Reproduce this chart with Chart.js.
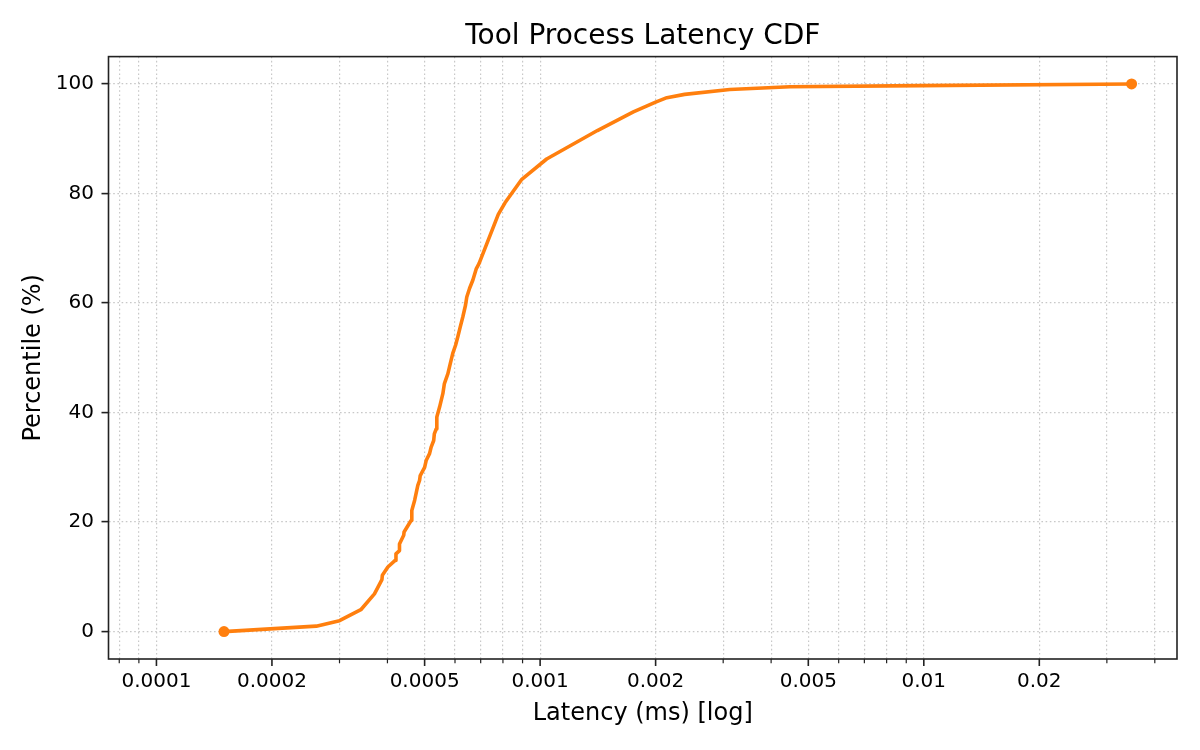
<!DOCTYPE html>
<html>
<head>
<meta charset="utf-8">
<title>Tool Process Latency CDF</title>
<script src="https://cdn.jsdelivr.net/npm/chart.js@4"></script>
<style>
  html, body { margin: 0; padding: 0; background: #fff; }
  #wrap { width: 1200px; height: 750px; }
</style>
</head>
<body>
<div id="wrap"><canvas id="cdf-chart" width="1200" height="750"></canvas></div>
<script>
// latency in ms
const latencyMs = [
  0.000150, 0.000261, 0.000300, 0.000341, 0.000370, 0.000387, 0.000388, 0.000401,
  0.000419, 0.000421, 0.000430, 0.000430, 0.000441, 0.000442, 0.000461, 0.000463,
  0.000471, 0.000480, 0.000485, 0.000487, 0.000500, 0.000505, 0.000515, 0.000520,
  0.000528, 0.000530, 0.000536, 0.000538, 0.000547, 0.000558, 0.000563, 0.000575,
  0.000583, 0.000592, 0.000602, 0.000610, 0.000619, 0.000629, 0.000639, 0.000644,
  0.000655, 0.000668, 0.000682, 0.000693, 0.000778, 0.000810, 0.000896, 0.001040,
  0.001410, 0.001750, 0.002000, 0.002140, 0.002380, 0.003120, 0.004480, 0.009800,
  0.034800
];
const percentile = [
  0, 1, 2, 4, 6.9, 9.5, 10.3, 11.8,
  13, 14.2, 14.8, 16, 17.6, 18.2, 20.3, 22.1,
  24, 26.7, 27.6, 28.5, 30, 31.3, 32.5, 33.7,
  34.9, 36.1, 37, 39.2, 41, 43.5, 45.3, 47.1,
  48.9, 50.8, 52.3, 53.8, 55.6, 57.5, 59.6, 61.1,
  62.7, 64.2, 66.3, 67.2, 76.2, 78.3, 82.6, 86.3,
  91.5, 94.9, 96.7, 97.5, 98.1, 99.0, 99.5, 99.7,
  100
];

const xMin = 0.000075;
const xMax = 0.0457;
const xTickValues = [0.0001, 0.0002, 0.0005, 0.001, 0.002, 0.005, 0.01, 0.02];
const xTickLabels = ['0.0001', '0.0002', '0.0005', '0.001', '0.002', '0.005', '0.01', '0.02'];
const xMinorValues = [0.00008, 0.00009, 0.0003, 0.0004, 0.0006, 0.0007, 0.0008, 0.0009,
  0.003, 0.004, 0.006, 0.007, 0.008, 0.009, 0.03, 0.04];
const yTickValues = [0, 20, 40, 60, 80, 100];

const orange = '#ff7f0e';
const gridColor = '#c8c8c8';
const spineColor = '#222222';

Chart.defaults.font.family = "'DejaVu Sans', sans-serif";
Chart.defaults.color = '#000';

function labelFor(v) {
  const i = xTickValues.findIndex(t => Math.abs(t - v) / t < 1e-6);
  return i >= 0 ? xTickLabels[i] : '';
}

// frame around plot + x tick marks (long for labelled, short for minor)
const framePlugin = {
  id: 'frame',
  afterDraw(chart) {
    const {ctx, chartArea: a, scales: {x}} = chart;
    ctx.save();
    ctx.strokeStyle = spineColor;
    x.ticks.forEach(t => {
      const major = labelFor(t.value) !== '';
      const px = x.getPixelForValue(t.value);
      ctx.lineWidth = major ? 1.6 : 1.2;
      ctx.beginPath();
      ctx.moveTo(px, a.bottom);
      ctx.lineTo(px, a.bottom + (major ? 7 : 4.3));
      ctx.stroke();
    });
    ctx.lineWidth = 1.6;
    ctx.strokeRect(a.left, a.top, a.right - a.left, a.bottom - a.top);
    ctx.restore();
  }
};

const points = latencyMs.map((v, i) => ({x: v, y: percentile[i]}));

new Chart(document.getElementById('cdf-chart'), {
  type: 'line',
  data: {
    datasets: [{
      data: points,
      borderColor: orange,
      backgroundColor: orange,
      borderWidth: 3.6,
      borderJoinStyle: 'round',
      tension: 0,
      pointRadius: ctx => (ctx.dataIndex === 0 || ctx.dataIndex === points.length - 1) ? 5.5 : 0,
      pointHoverRadius: 0,
      pointBorderWidth: 0,
      pointBackgroundColor: orange
    }]
  },
  options: {
    responsive: false,
    animation: false,
    layout: { padding: { left: 0, right: 23, top: 0, bottom: 0 } },
    plugins: {
      legend: { display: false },
      tooltip: { enabled: false },
      title: {
        display: true,
        fullSize: false,
        text: 'Tool Process Latency CDF',
        color: '#000',
        font: { size: 28, weight: 'normal' },
        padding: { top: 20, bottom: 3 }
      }
    },
    scales: {
      x: {
        type: 'logarithmic',
        bounds: 'data',
        min: xMin,
        max: xMax,
        afterBuildTicks: axis => {
          // log scale rounds its min to a tick, so put the limits back
          axis.min = xMin;
          axis.max = xMax;
          axis.ticks = xMinorValues.concat(xTickValues).sort((a, b) => a - b).map(v => ({value: v}));
        },
        afterFit: axis => { axis.height = 91; },
        ticks: {
          autoSkip: false,
          maxRotation: 0,
          padding: 0,
          font: { size: 20 },
          color: '#000',
          callback: value => labelFor(value)
        },
        grid: {
          color: gridColor,
          lineWidth: 1.2,
          drawTicks: true,
          tickLength: 11,
          tickColor: 'rgba(0,0,0,0)'
        },
        border: { display: false, dash: [1.6, 2.6] },
        title: {
          display: true,
          text: 'Latency (ms) [log]',
          color: '#000',
          font: { size: 24 },
          padding: { top: 0, bottom: 22 }
        }
      },
      y: {
        type: 'linear',
        min: -5,
        max: 105,
        afterBuildTicks: axis => {
          axis.ticks = yTickValues.map(v => ({value: v}));
        },
        afterFit: axis => { axis.width = 108.5; },
        ticks: {
          padding: 7.5,
          font: { size: 20 },
          color: '#000'
        },
        grid: {
          color: gridColor,
          lineWidth: 1.2,
          drawTicks: true,
          tickLength: 7,
          tickColor: spineColor,
          tickWidth: 1.6
        },
        border: { display: false, dash: [1.6, 2.6] },
        title: {
          display: true,
          text: 'Percentile (%)',
          color: '#000',
          font: { size: 24 },
          padding: { top: 19, bottom: 0 }
        }
      }
    }
  },
  plugins: [framePlugin]
});
</script>
</body>
</html>
